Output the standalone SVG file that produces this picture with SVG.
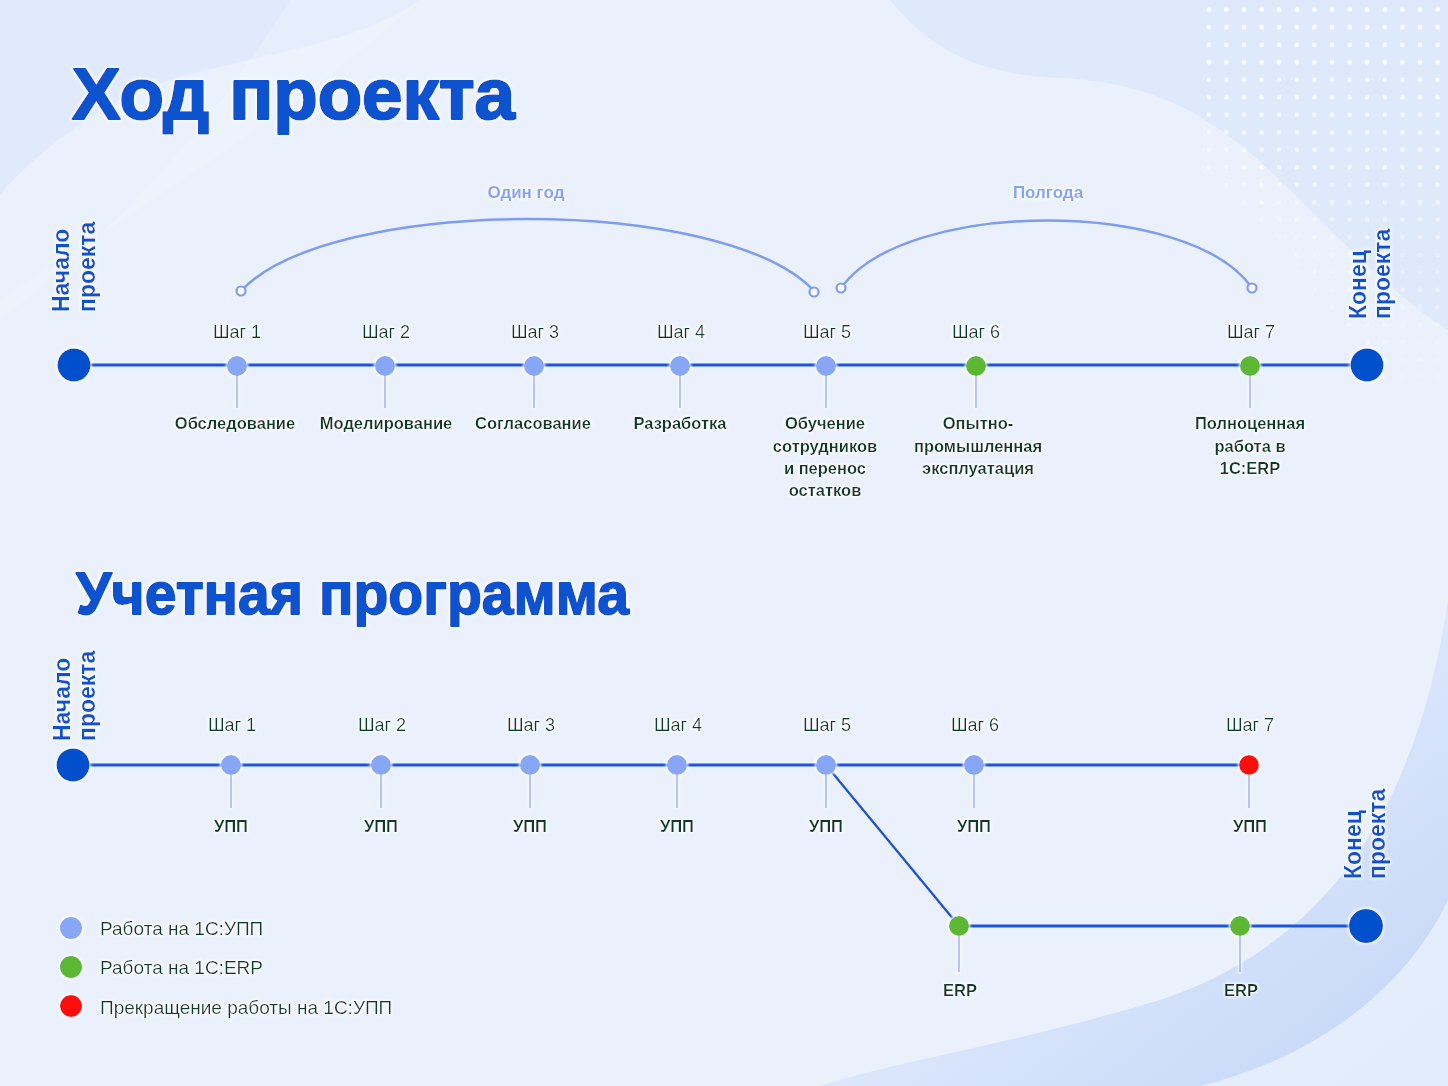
<svg xmlns="http://www.w3.org/2000/svg" width="1448" height="1086" viewBox="0 0 1448 1086">
<defs>
<style>
.title{font-family:"Liberation Sans",Arial,sans-serif;font-weight:bold;font-size:73px;fill:#0a52d0;stroke:#0a52d0;stroke-width:2.2;stroke-linejoin:round}
.title2{font-size:60px;stroke-width:1.8}
.vert{font-family:"Liberation Sans",Arial,sans-serif;font-weight:bold;font-size:23px;fill:#0a52d0}
.step{font-family:"Liberation Sans",Arial,sans-serif;font-size:18px;fill:#0f3d2b;text-anchor:middle}
.lbl{font-family:"Liberation Sans",Arial,sans-serif;font-weight:bold;font-size:16.5px;fill:#0d3a28;text-anchor:middle}
.span{font-family:"Liberation Sans",Arial,sans-serif;font-weight:bold;font-size:17px;fill:#86a2f4;text-anchor:middle}
.legend{font-family:"Liberation Sans",Arial,sans-serif;font-size:19px;fill:#0f3d2b}
.tl{stroke:#1d55d9;stroke-width:3;fill:none}
.arc{stroke:#7f9cf4;stroke-width:2.5;fill:none}
.end{fill:#ffffff;stroke:#7f9cf4;stroke-width:2.2}
.tick{stroke:#96b0f0;stroke-width:1.5}
.big{fill:#0050cc}
.upp{fill:#88a6f6}
.erp{fill:#5cb833}
.stop{fill:#ff0a0a}
</style>
<filter id="glow" x="-20%" y="-30%" width="140%" height="160%">
<feMorphology in="SourceAlpha" operator="dilate" radius="1.2" result="d"/>
<feGaussianBlur in="d" stdDeviation="1.8" result="b"/>
<feFlood flood-color="#ffffff" flood-opacity="0.95"/>
<feComposite in2="b" operator="in" result="g"/>
<feMerge><feMergeNode in="g"/><feMergeNode in="SourceGraphic"/></feMerge>
</filter>
<pattern id="dots" patternUnits="userSpaceOnUse" x="1200" y="1" width="17.6" height="17.5">
<circle cx="8.8" cy="8.8" r="2.4" fill="#ffffff"/>
</pattern>
<linearGradient id="br" x1="0" y1="0" x2="1" y2="1">
<stop offset="0" stop-color="#e8f0fc" stop-opacity="0"/>
<stop offset="0.6" stop-color="#d6e3fa"/>
<stop offset="1" stop-color="#c2d5f7"/>
</linearGradient>
<linearGradient id="dotfade" x1="0" y1="0" x2="0" y2="1">
<stop offset="0" stop-color="#fff" stop-opacity="1"/>
<stop offset="1" stop-color="#fff" stop-opacity="0.2"/>
</linearGradient>
<mask id="dm"><rect x="1190" y="0" width="258" height="400" fill="url(#dotfade)"/></mask>
</defs>

<g id="background">
<rect width="1448" height="1086" fill="#eaf1fc"/>
<path d="M0,0 L420,0 C340,55 220,55 130,95 C70,125 25,165 0,195 Z" fill="#dde8fb" opacity="0.8"/>
<path d="M0,320 C90,250 190,160 290,0 L420,0 C300,110 150,200 0,300 Z" fill="#f1f6fe" opacity="0.35"/>
<path d="M890,0 C930,50 980,75 1060,78 C1160,82 1220,120 1290,190 C1350,250 1400,300 1448,330 L1448,0 Z" fill="#dfe9fc"/>
<path d="M1448,600 C1420,790 1340,940 1160,1000 C1010,1045 900,1060 820,1086 L1448,1086 Z" fill="url(#br)"/>
<path d="M1448,900 C1400,1000 1300,1062 1200,1086 L1448,1086 Z" fill="#e8f0fc" opacity="0.85"/>
<path d="M1200,0 L1448,0 L1448,390 L1385,380 C1320,300 1260,220 1200,170 Z" fill="url(#dots)" mask="url(#dm)" opacity="0.9"/>
</g>

<g id="titles" filter="url(#glow)">
<text class="title" x="72" y="119" textLength="443" lengthAdjust="spacingAndGlyphs">Ход проекта</text>
<text class="title title2" x="76" y="614" textLength="553" lengthAdjust="spacingAndGlyphs">Учетная программа</text>
</g>

<g id="connectors">
<line class="tl" x1="74" y1="365" x2="1367" y2="365"/>
<line class="tl" x1="73" y1="765" x2="1249" y2="765"/>
<line x1="826" y1="765" x2="959" y2="926" stroke="#1d50d4" stroke-width="2.2"/>
<line class="tl" x1="959" y1="926" x2="1366" y2="926"/>
<path id="arc-year" class="arc" d="M241,291 C330,195 725,195 814,291"/>
<path id="arc-half" class="arc" d="M841,288 C905,198 1190,198 1252,288"/>
<circle class="end" cx="241" cy="291" r="4.5"/>
<circle class="end" cx="814" cy="292" r="4.5"/>
<circle class="end" cx="841" cy="288" r="4.5"/>
<circle class="end" cx="1252" cy="288" r="4.5"/>
</g>

<g id="span-labels" filter="url(#glow)">
<text class="span" x="526" y="198">Один год</text>
<text class="span" x="1048" y="198">Полгода</text>
</g>

<!-- Timeline 1 -->
<g id="t1-start" filter="url(#glow)">
<circle class="big" cx="74" cy="365" r="16.5"/>
<text class="vert" transform="translate(69,312) rotate(-90)">Начало</text>
<text class="vert" transform="translate(95,312) rotate(-90)">проекта</text>
</g>
<g id="t1-end" filter="url(#glow)">
<circle class="big" cx="1367" cy="365" r="16.5"/>
<text class="vert" transform="translate(1366,319) rotate(-90)">Конец</text>
<text class="vert" transform="translate(1390,319) rotate(-90)">проекта</text>
</g>

<g id="t1-step1" filter="url(#glow)">
<line class="tick" x1="237" y1="375" x2="237" y2="408"/>
<circle class="upp" cx="237" cy="366" r="10"/>
<text class="step" x="237" y="338">Шаг 1</text>
<text class="lbl" x="235" y="429">Обследование</text>
</g>
<g id="t1-step2" filter="url(#glow)">
<line class="tick" x1="385" y1="375" x2="385" y2="408"/>
<circle class="upp" cx="385" cy="366" r="10"/>
<text class="step" x="386" y="338">Шаг 2</text>
<text class="lbl" x="386" y="429">Моделирование</text>
</g>
<g id="t1-step3" filter="url(#glow)">
<line class="tick" x1="534" y1="375" x2="534" y2="408"/>
<circle class="upp" cx="534" cy="366" r="10"/>
<text class="step" x="535" y="338">Шаг 3</text>
<text class="lbl" x="533" y="429">Согласование</text>
</g>
<g id="t1-step4" filter="url(#glow)">
<line class="tick" x1="680" y1="375" x2="680" y2="408"/>
<circle class="upp" cx="680" cy="366" r="10"/>
<text class="step" x="681" y="338">Шаг 4</text>
<text class="lbl" x="680" y="429">Разработка</text>
</g>
<g id="t1-step5" filter="url(#glow)">
<line class="tick" x1="826" y1="375" x2="826" y2="408"/>
<circle class="upp" cx="826" cy="366" r="10"/>
<text class="step" x="827" y="338">Шаг 5</text>
<text class="lbl" x="825" y="429">Обучение</text>
<text class="lbl" x="825" y="452">сотрудников</text>
<text class="lbl" x="825" y="474">и перенос</text>
<text class="lbl" x="825" y="496">остатков</text>
</g>
<g id="t1-step6" filter="url(#glow)">
<line class="tick" x1="976" y1="375" x2="976" y2="408"/>
<circle class="erp" cx="976" cy="366" r="10"/>
<text class="step" x="976" y="338">Шаг 6</text>
<text class="lbl" x="978" y="429">Опытно-</text>
<text class="lbl" x="978" y="452">промышленная</text>
<text class="lbl" x="978" y="474">эксплуатация</text>
</g>
<g id="t1-step7" filter="url(#glow)">
<line class="tick" x1="1250" y1="375" x2="1250" y2="408"/>
<circle class="erp" cx="1250" cy="366" r="10"/>
<text class="step" x="1251" y="338">Шаг 7</text>
<text class="lbl" x="1250" y="429">Полноценная</text>
<text class="lbl" x="1250" y="452">работа в</text>
<text class="lbl" x="1250" y="474">1C:ERP</text>
</g>

<!-- Timeline 2 -->
<g id="t2-start" filter="url(#glow)">
<circle class="big" cx="73" cy="765" r="16.5"/>
<text class="vert" transform="translate(70,741) rotate(-90)">Начало</text>
<text class="vert" transform="translate(95,741) rotate(-90)">проекта</text>
</g>
<g id="t2-end" filter="url(#glow)">
<circle class="big" cx="1366" cy="926" r="17"/>
<text class="vert" transform="translate(1361,879) rotate(-90)">Конец</text>
<text class="vert" transform="translate(1385,879) rotate(-90)">проекта</text>
</g>

<g id="t2-step1" filter="url(#glow)">
<line class="tick" x1="231" y1="775" x2="231" y2="808"/>
<circle class="upp" cx="231" cy="765" r="10"/>
<text class="step" x="232" y="731">Шаг 1</text>
<text class="lbl" x="231" y="832">УПП</text>
</g>
<g id="t2-step2" filter="url(#glow)">
<line class="tick" x1="381" y1="775" x2="381" y2="808"/>
<circle class="upp" cx="381" cy="765" r="10"/>
<text class="step" x="382" y="731">Шаг 2</text>
<text class="lbl" x="381" y="832">УПП</text>
</g>
<g id="t2-step3" filter="url(#glow)">
<line class="tick" x1="530" y1="775" x2="530" y2="808"/>
<circle class="upp" cx="530" cy="765" r="10"/>
<text class="step" x="531" y="731">Шаг 3</text>
<text class="lbl" x="530" y="832">УПП</text>
</g>
<g id="t2-step4" filter="url(#glow)">
<line class="tick" x1="677" y1="775" x2="677" y2="808"/>
<circle class="upp" cx="677" cy="765" r="10"/>
<text class="step" x="678" y="731">Шаг 4</text>
<text class="lbl" x="677" y="832">УПП</text>
</g>
<g id="t2-step5" filter="url(#glow)">
<line class="tick" x1="826" y1="775" x2="826" y2="808"/>
<circle class="upp" cx="826" cy="765" r="10"/>
<text class="step" x="827" y="731">Шаг 5</text>
<text class="lbl" x="826" y="832">УПП</text>
</g>
<g id="t2-step6" filter="url(#glow)">
<line class="tick" x1="974" y1="775" x2="974" y2="808"/>
<circle class="upp" cx="974" cy="765" r="10"/>
<text class="step" x="975" y="731">Шаг 6</text>
<text class="lbl" x="974" y="832">УПП</text>
</g>
<g id="t2-step7" filter="url(#glow)">
<line class="tick" x1="1249" y1="775" x2="1249" y2="808"/>
<circle class="stop" cx="1249" cy="765" r="10"/>
<text class="step" x="1250" y="731">Шаг 7</text>
<text class="lbl" x="1250" y="832">УПП</text>
</g>
<g id="t2-erp1" filter="url(#glow)">
<line class="tick" x1="959" y1="936" x2="959" y2="972"/>
<circle class="erp" cx="959" cy="926" r="10"/>
<text class="lbl" x="960" y="996">ERP</text>
</g>
<g id="t2-erp2" filter="url(#glow)">
<line class="tick" x1="1240" y1="936" x2="1240" y2="972"/>
<circle class="erp" cx="1240" cy="926" r="10"/>
<text class="lbl" x="1241" y="996">ERP</text>
</g>

<g id="legend" filter="url(#glow)">
<circle class="upp" cx="71" cy="928" r="11"/>
<text class="legend" x="100" y="935">Работа на 1С:УПП</text>
<circle class="erp" cx="71" cy="967" r="11"/>
<text class="legend" x="100" y="974">Работа на 1С:ERP</text>
<circle class="stop" cx="71" cy="1006" r="11"/>
<text class="legend" x="100" y="1014">Прекращение работы на 1С:УПП</text>
</g>
</svg>
